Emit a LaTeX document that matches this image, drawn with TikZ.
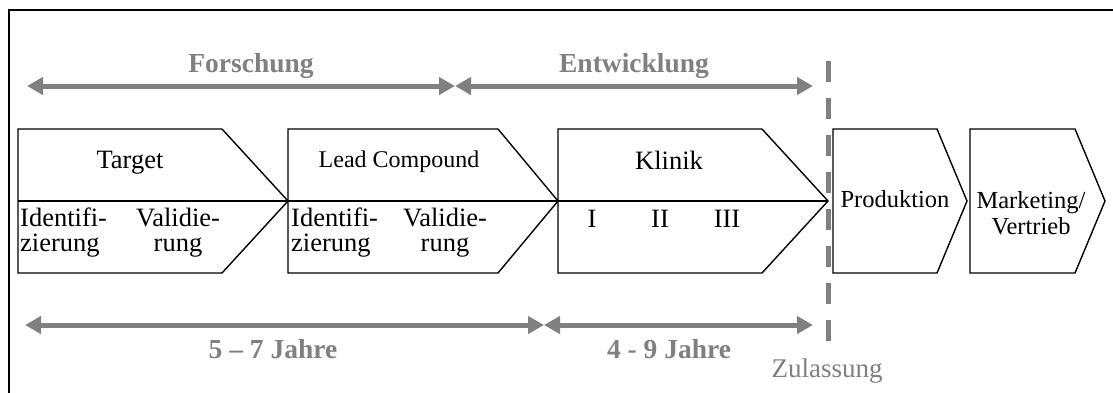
\documentclass[tikz,border=0pt]{standalone}
\usepackage{fontspec}
\setmainfont{Liberation Serif}
\usetikzlibrary{arrows.meta}
\definecolor{labgray}{RGB}{128,128,128}
\begin{document}
\begin{tikzpicture}[x=1pt,y=-1pt,
  chev/.style={draw=black,line width=1.4pt,fill=white,line join=miter},
  midline/.style={draw=black,line width=1.4pt},
  txt/.style={font=\fontsize{26.5}{27}\selectfont,inner sep=0pt},
  midtxt/.style={font=\fontsize{24.5}{25}\selectfont,inner sep=0pt},
  smalltxt/.style={font=\fontsize{24}{25}\selectfont,inner sep=0pt},
  lbl/.style={font=\bfseries\fontsize{27.5}{28}\selectfont,text=labgray,inner sep=0pt},
  zul/.style={font=\fontsize{27}{28}\selectfont,text=labgray,inner sep=0pt},
  spanarrow/.style={draw=labgray,line width=5pt,
    {Triangle[length=16pt,width=17pt]}-{Triangle[length=16pt,width=17pt]}},
  gate/.style={draw=labgray,line width=5pt,dash pattern=on 21pt off 16pt},
  frame/.style={draw=black,line width=2pt}]
\useasboundingbox (0,0) rectangle (1113,392);
\fill[white] (0,0) rectangle (1113,392);
% frame
\draw[frame] (9,400) -- (9,10) -- (1125,10);
% chevrons (left, corner, tip)
\foreach \L/\C/\T in {18/222/288, 288/498/558, 558/762/828}{
  \draw[chev] (\L,129) -- (\C,129) -- (\T,201) -- (\C,273) -- (\L,273) -- cycle;
  \draw[midline] (\L,201) -- (\T,201);
}
\foreach \L/\C/\T in {833/937/967, 970/1075/1105}{
  \draw[chev] (\L,129) -- (\C,129) -- (\T,201) -- (\C,273) -- (\L,273) -- cycle;
}
% texts in chevrons
\node[txt,anchor=base] (target) at (130,168) {Target};
\node[txt,anchor=base west] (id1a) at (20,226) {Identifi-};
\node[txt,anchor=base west] (id1b) at (20,251) {zierung};
\node[txt,anchor=base] (va1a) at (178,226) {Validie-};
\node[txt,anchor=base] (va1b) at (178,251) {rung};
\node[smalltxt,anchor=base] (lead) at (399,167) {Lead Compound};
\node[txt,anchor=base west] (id2a) at (291,226) {Identifi-};
\node[txt,anchor=base west] (id2b) at (291,251) {zierung};
\node[txt,anchor=base] (va2a) at (445,226) {Validie-};
\node[txt,anchor=base] (va2b) at (445,251) {rung};
\node[txt,anchor=base] (klinik) at (669,169) {Klinik};
\node[txt,anchor=base] (p1) at (592,227) {I};
\node[txt,anchor=base] (p2) at (660,227) {II};
\node[txt,anchor=base] (p3) at (727,227) {III};
\node[midtxt,anchor=base] (prod) at (895,207) {Produktion};
\node[midtxt,anchor=base] (mark) at (1031,208) {Marketing/};
\node[midtxt,anchor=base] (vert) at (1031,234) {Vertrieb};
% approval gate
\coordinate (gtop) at (828,61);
\coordinate (gbot) at (828,344);
\draw[gate] (gtop) -- (gbot);
% span arrows
\coordinate (fa) at (27,86);
\coordinate (fb) at (455,86);
\coordinate (eb) at (813,86);
\coordinate (ja) at (25,325);
\coordinate (jb) at (544,325);
\coordinate (jc) at (813,325);
\draw[spanarrow] (fa) -- (fb);
\draw[spanarrow] (fb) -- (eb);
\draw[spanarrow] (ja) -- (jb);
\draw[spanarrow] (jb) -- (jc);
% labels
\node[lbl,anchor=base] (forsch) at (251,72) {Forschung};
\node[lbl,anchor=base] (entw) at (634,72) {Entwicklung};
\node[lbl,anchor=base] (dur1) at (273,358) {5 – 7 Jahre};
\node[lbl,anchor=base] (dur2) at (669,358) {4 - 9 Jahre};
\node[zul,anchor=base] (zul) at (827,377) {Zulassung};
\end{tikzpicture}
\end{document}
